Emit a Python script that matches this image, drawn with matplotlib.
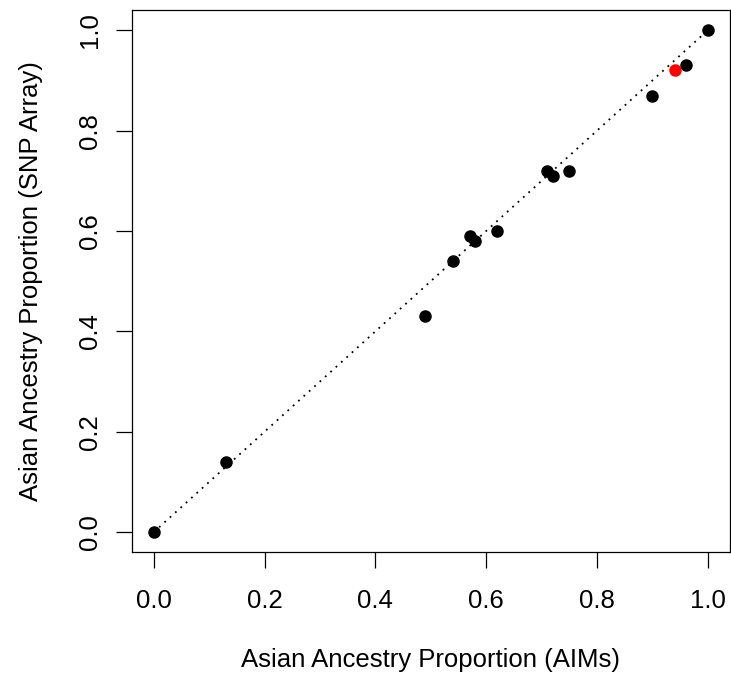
import numpy as np
import matplotlib
matplotlib.use('Agg')
import matplotlib.pyplot as plt

plt.rcParams['font.family'] = ['Liberation Sans', 'DejaVu Sans']

# Asian ancestry proportions: AIMs (x) vs SNP array (y)
aims = [0.00, 0.13, 0.49, 0.54, 0.57, 0.58, 0.62, 0.71, 0.72, 0.75, 0.90, 0.96, 1.00]
snp = [0.00, 0.14, 0.43, 0.54, 0.59, 0.58, 0.60, 0.72, 0.71, 0.72, 0.87, 0.93, 1.00]
# highlighted sample
hl_aims = [0.94]
hl_snp = [0.92]
ticks = [0.0, 0.2, 0.4, 0.6, 0.8, 1.0]

fig = plt.figure(figsize=(7.31, 6.8), dpi=100)
ax = fig.add_axes([0.180, 0.188, 0.8186, 0.797])

ax.plot([0, 1], [0, 1], color='black', linestyle=(0, (1, 3)), linewidth=1.3, zorder=1)
ax.plot(aims, snp, 'o', color='black', markersize=8, zorder=2)
ax.plot(hl_aims, hl_snp, 'o', color='red', markersize=8, zorder=3)

ax.set_xlim(-0.04, 1.04)
ax.set_ylim(-0.04, 1.04)
ax.set_xticks(ticks)
ax.set_yticks(ticks)
ax.set_xticklabels(['%.1f' % t for t in ticks])
ax.set_yticklabels(['%.1f' % t for t in ticks], rotation=90, va='center')
ax.tick_params(direction='out', length=11.5, width=0.9, labelsize=18.5)
ax.tick_params(axis='x', pad=15)
ax.tick_params(axis='y', pad=10)
for s in ax.spines.values():
    s.set_linewidth(0.9)

ax.set_xlabel('Asian Ancestry Proportion (AIMs)', fontsize=18.5, labelpad=25.5)
ax.set_ylabel('Asian Ancestry Proportion (SNP Array)', fontsize=18.5, labelpad=25)

fig.savefig('out.png', dpi=100)
